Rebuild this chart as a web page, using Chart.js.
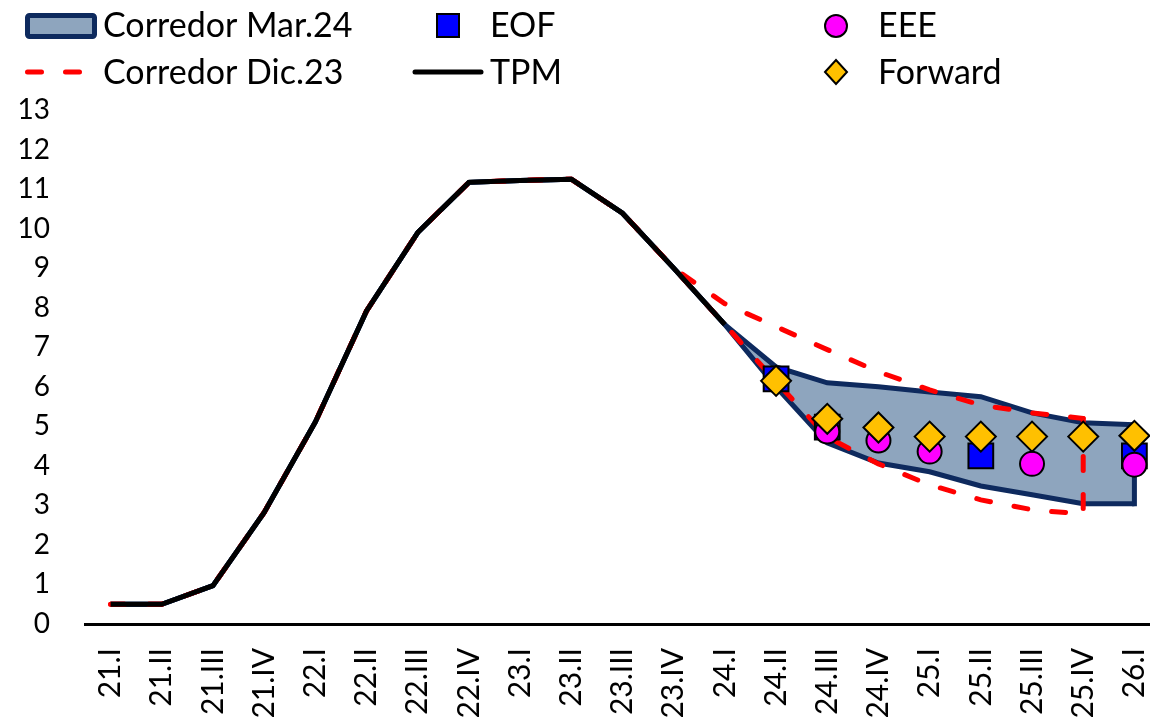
<!DOCTYPE html>
<html>
<head>
<meta charset="utf-8">
<script src="https://cdn.jsdelivr.net/npm/chart.js@4.4.1/dist/chart.umd.min.js"></script>
<style>
  html, body { margin: 0; padding: 0; overflow: hidden; background: #fff; }
  #wrap { width: 1160px; height: 721px; position: relative; }
  canvas { display: block; }
</style>
</head>
<body>
<div id="wrap"><canvas id="chart" width="1160" height="721" style="width:1160px;height:721px"></canvas></div>
<script>
// Quarters on the horizontal axis
const quarters = ['21.I','21.II','21.III','21.IV','22.I','22.II','22.III','22.IV',
                  '23.I','23.II','23.III','23.IV','24.I','24.II','24.III','24.IV',
                  '25.I','25.II','25.III','25.IV','26.I'];

// Policy rate (quarterly average), %
const tpm = [0.5, 0.5, 0.97, 2.82, 5.11, 7.92, 9.9, 11.17, 11.22, 11.25, 10.39, 9.0, 7.57,
             null, null, null, null, null, null, null, null];

// Corridor March 2024 (upper and lower bounds)
const corrMar24Upper = [0.5, 0.5, 0.97, 2.82, 5.11, 7.92, 9.9, 11.17, 11.22, 11.25, 10.39, 9.0, 7.57,
                        6.5, 6.1, 6.0, 5.87, 5.75, 5.34, 5.09, 5.04];
const corrMar24Lower = [0.5, 0.5, 0.97, 2.82, 5.11, 7.92, 9.9, 11.17, 11.22, 11.25, 10.39, 9.0, 7.57,
                        6.0, 4.58, 4.07, 3.85, 3.49, 3.27, 3.04, 3.04];

// Corridor December 2023 (upper and lower bounds)
const corrDic23Upper = [0.5, 0.5, 0.97, 2.82, 5.11, 7.92, 9.9, 11.17, 11.22, 11.25, 10.39, 9.0,
                        8.1, 7.52, 6.94, 6.38, 5.92, 5.54, 5.34, 5.2, null];
const corrDic23Lower = [0.5, 0.5, 0.97, 2.82, 5.11, 7.92, 9.9, 11.17, 11.22, 11.25, 10.39, 9.0,
                        7.57, 6.13, 4.73, 4.05, 3.52, 3.14, 2.89, 2.78, null];

// Survey and market expectations
const eof = [null, null, null, null, null, null, null, null, null, null, null, null, null,
             6.2, 4.98, null, null, 4.25, null, null, 4.25];
const eee = [null, null, null, null, null, null, null, null, null, null, null, null, null,
             null, 4.87, 4.64, 4.36, null, 4.05, null, 4.03];
const forward = [null, null, null, null, null, null, null, null, null, null, null, null, null,
                 6.15, 5.19, 4.97, 4.74, 4.74, 4.74, 4.74, 4.76];

// Y axis range
const yMin = 0, yMax = 13, yStep = 1;

const FONT = 'Lato, "Noto Sans", sans-serif';
const NAVY = '#0E2A5E';
const BAND = '#8EA5BE';
const RED = '#FF0000';
const DASH = [14, 24];

// Closing edge of a corridor at its last quarter
function closingEdge(upper, lower) {
  let i = upper.length - 1;
  while (i >= 0 && (upper[i] === null || lower[i] === null)) i--;
  return [{ x: quarters[i], y: upper[i] }, { x: quarters[i], y: lower[i] }];
}

const legendItems = [
  { label: 'Corredor Mar.24', kind: 'band',    x: 25,  y: 25, tx: 103, ty: 37 },
  { label: 'EOF',             kind: 'rect',    x: 448, y: 25, tx: 490, ty: 37 },
  { label: 'EEE',             kind: 'circle',  x: 836, y: 26, tx: 878, ty: 37 },
  { label: 'Corredor Dic.23', kind: 'dash',    x: 25,  y: 72, tx: 103, ty: 84 },
  { label: 'TPM',             kind: 'line',    x: 413, y: 72, tx: 490, ty: 84 },
  { label: 'Forward',         kind: 'diamond', x: 836, y: 72, tx: 878, ty: 84 }
];

const legendPlugin = {
  id: 'cornerLegend',
  afterDraw(chart) {
    const ctx = chart.ctx;
    ctx.save();
    for (const it of legendItems) {
      ctx.setLineDash([]);
      ctx.lineCap = 'butt';
      if (it.kind === 'band') {
        ctx.beginPath();
        ctx.roundRect(it.x + 2.5, it.y - 9.5, 67, 21, 2);
        ctx.fillStyle = BAND; ctx.fill();
        ctx.lineWidth = 5; ctx.strokeStyle = NAVY; ctx.stroke();
      } else if (it.kind === 'rect') {
        ctx.beginPath();
        ctx.rect(it.x - 11, it.y - 11, 22, 23);
        ctx.fillStyle = '#0000FF'; ctx.fill();
        ctx.lineWidth = 2; ctx.strokeStyle = '#000'; ctx.stroke();
      } else if (it.kind === 'circle') {
        ctx.beginPath();
        ctx.arc(it.x, it.y, 11, 0, Math.PI * 2);
        ctx.fillStyle = '#FF00FF'; ctx.fill();
        ctx.lineWidth = 2; ctx.strokeStyle = '#000'; ctx.stroke();
      } else if (it.kind === 'dash') {
        ctx.beginPath();
        ctx.setLineDash(DASH);
        ctx.lineCap = 'round';
        ctx.moveTo(it.x + 2.5, it.y); ctx.lineTo(it.x + 57, it.y);
        ctx.lineWidth = 5; ctx.strokeStyle = RED; ctx.stroke();
      } else if (it.kind === 'line') {
        ctx.beginPath();
        ctx.lineCap = 'round';
        ctx.moveTo(it.x + 2, it.y); ctx.lineTo(it.x + 68, it.y);
        ctx.lineWidth = 5; ctx.strokeStyle = '#000'; ctx.stroke();
      } else if (it.kind === 'diamond') {
        ctx.beginPath();
        ctx.moveTo(it.x - 11, it.y); ctx.lineTo(it.x, it.y - 12);
        ctx.lineTo(it.x + 11, it.y); ctx.lineTo(it.x, it.y + 12);
        ctx.closePath();
        ctx.fillStyle = '#FFC000'; ctx.fill();
        ctx.lineWidth = 2; ctx.strokeStyle = '#000'; ctx.stroke();
      }
      ctx.setLineDash([]);
      ctx.font = '34px ' + FONT;
      ctx.fillStyle = '#000';
      ctx.textAlign = 'left';
      ctx.textBaseline = 'alphabetic';
      ctx.fillText(it.label, it.tx, it.ty);
    }
    ctx.restore();
  }
};

const lineBase = { pointRadius: 0, pointHoverRadius: 0, tension: 0, spanGaps: false };
const markerBase = { showLine: false, borderWidth: 2, borderColor: '#000', pointBorderColor: '#000', pointBorderWidth: 2 };

new Chart(document.getElementById('chart'), {
  type: 'line',
  data: {
    labels: quarters,
    datasets: [
      { ...markerBase, label: 'Forward', data: forward, order: 0,
        pointStyle: 'rectRot', pointRadius: 15, pointBackgroundColor: '#FFC000', backgroundColor: '#FFC000' },
      { ...markerBase, label: 'EEE', data: eee, order: 1,
        pointStyle: 'circle', pointRadius: 12, pointBackgroundColor: '#FF00FF', backgroundColor: '#FF00FF' },
      { ...markerBase, label: 'EOF', data: eof, order: 2,
        pointStyle: 'rect', pointRadius: 17.5, pointBackgroundColor: '#0000FF', backgroundColor: '#0000FF' },
      { ...lineBase, label: 'TPM', data: tpm, order: 3,
        borderColor: '#000', borderWidth: 5, borderJoinStyle: 'round', borderCapStyle: 'butt', fill: false },
      { ...lineBase, label: 'Corredor Dic.23', data: corrDic23Upper, order: 4,
        borderColor: RED, borderWidth: 5, borderDash: DASH, borderCapStyle: 'round', fill: false },
      { ...lineBase, label: 'Corredor Dic.23 inf', data: corrDic23Lower, order: 4,
        borderColor: RED, borderWidth: 5, borderDash: DASH, borderCapStyle: 'round', fill: false },
      { ...lineBase, label: 'Corredor Dic.23 cierre', data: closingEdge(corrDic23Upper, corrDic23Lower), order: 4,
        borderColor: RED, borderWidth: 5, borderDash: DASH, borderCapStyle: 'round', fill: false },
      { ...lineBase, label: 'Corredor Mar.24', data: corrMar24Upper, order: 6,
        borderColor: NAVY, borderWidth: 5, borderJoinStyle: 'miter', backgroundColor: BAND, fill: '+1' },
      { ...lineBase, label: 'Corredor Mar.24 inf', data: corrMar24Lower, order: 5,
        borderColor: NAVY, borderWidth: 5, borderJoinStyle: 'miter', fill: false },
      { ...lineBase, label: 'Corredor Mar.24 cierre', data: closingEdge(corrMar24Upper, corrMar24Lower), order: 5,
        borderColor: NAVY, borderWidth: 5, borderCapStyle: 'square', fill: false }
    ]
  },
  options: {
    responsive: false,
    animation: false,
    devicePixelRatio: 1,
    layout: { autoPadding: false, padding: { top: 110, right: 0, bottom: 0, left: 0 } },
    plugins: { legend: { display: false }, tooltip: { enabled: false } },
    scales: {
      x: {
        type: 'category',
        offset: true,
        grid: { display: false, drawTicks: false },
        border: { display: true, color: '#000', width: 3 },
        ticks: {
          font: { family: FONT, size: 30 }, color: '#000',
          maxRotation: 90, minRotation: 90, autoSkip: false, padding: 24
        },
        afterFit(scale) {
          scale.height = 97;
          scale.paddingLeft = 0;
          scale.paddingRight = 0;
        }
      },
      y: {
        min: yMin, max: yMax,
        grid: { display: false, drawTicks: false },
        border: { display: false },
        ticks: {
          stepSize: yStep,
          font: { family: FONT, size: 28 }, color: '#000',
          padding: 35
        },
        afterFit(scale) {
          scale.width = 85;
          scale.paddingTop = 0;
          scale.paddingBottom = 0;
        }
      }
    }
  },
  plugins: [legendPlugin]
});
</script>
</body>
</html>
